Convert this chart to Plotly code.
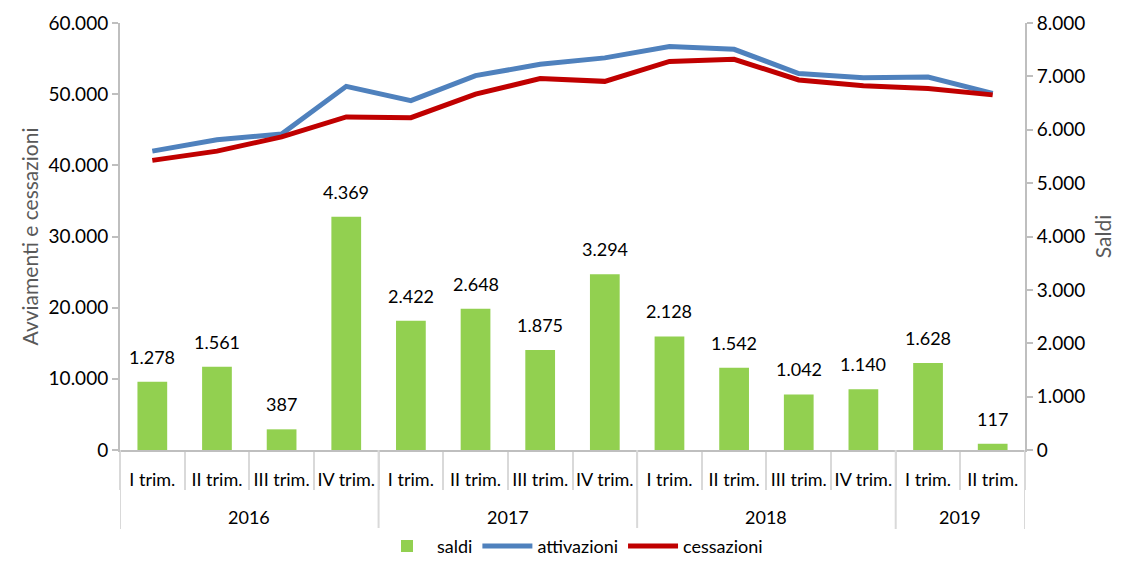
import plotly.graph_objects as go

years = ["2016"] * 4 + ["2017"] * 4 + ["2018"] * 4 + ["2019"] * 2
quarters = ["I trim.", "II trim.", "III trim.", "IV trim.",
            "I trim.", "II trim.", "III trim.", "IV trim.",
            "I trim.", "II trim.", "III trim.", "IV trim.",
            "I trim.", "II trim."]
saldi = [1278, 1561, 387, 4369, 2422, 2648, 1875, 3294, 2128, 1542, 1042, 1140, 1628, 117]
attivazioni = [42000, 43600, 44400, 51100, 49100, 52600, 54200, 55100, 56700, 56300, 52900, 52300, 52400, 50100]
cessazioni = [40700, 42000, 44000, 46800, 46700, 50000, 52200, 51800, 54600, 54900, 52000, 51200, 50800, 49900]

font_family = "Lato, 'Open Sans', sans-serif"
idx = list(range(len(quarters)))


def fmt(v):
    return f"{v:,}".replace(",", ".")


fig = go.Figure()
fig.add_trace(go.Bar(
    x=idx, y=saldi, name="saldi", yaxis="y",
    marker=dict(color="#92D050", line=dict(width=0)),
    width=0.46,
))
fig.add_trace(go.Scatter(
    x=idx, y=attivazioni, name="attivazioni", yaxis="y2", mode="lines",
    line=dict(color="#4F81BD", width=5),
))
fig.add_trace(go.Scatter(
    x=idx, y=cessazioni, name="cessazioni", yaxis="y2", mode="lines",
    line=dict(color="#C00000", width=5),
))

# bar value labels
annotations = []
for i, v in zip(idx, saldi):
    annotations.append(dict(
        x=i, y=v, xref="x", yref="y", text=fmt(v), showarrow=False,
        yanchor="bottom", yshift=12, font=dict(size=18, color="#000000", family=font_family),
    ))

# year groups
groups = []
for i, y in enumerate(years):
    if groups and groups[-1][0] == y:
        groups[-1][2] = i
    else:
        groups.append([y, i, i])

shapes = []
sep_color = "#D9D9D9"
bottom = -(529 - 450) / 427
year_label_y = -(517 - 450) / 427
for y, a, b in groups:
    annotations.append(dict(
        x=(a + b) / 2, y=year_label_y, xref="x", yref="paper", text=y, showarrow=False,
        yanchor="middle", font=dict(size=18, color="#000000", family=font_family),
    ))
    shapes.append(dict(type="line", xref="x", yref="paper", x0=a - 0.5, x1=a - 0.5,
                       y0=0, y1=bottom, line=dict(color=sep_color, width=2)))
last = groups[-1][2]
shapes.append(dict(type="line", xref="x", yref="paper", x0=last + 0.5, x1=last + 0.5,
                   y0=0, y1=bottom, line=dict(color=sep_color, width=2)))

axis_gray = "#BFBFBF"
fig.update_layout(
    width=1118, height=560,
    margin=dict(l=112, r=101, t=15, b=118, autoexpand=False),
    paper_bgcolor="white", plot_bgcolor="white",
    separators=",.",
    font=dict(family=font_family, size=18, color="#000000"),
    showlegend=True,
    legend=dict(orientation="h", x=0.5, xanchor="center", xref="paper",
                y=0.072, yanchor="top", yref="container",
                font=dict(size=18), traceorder="normal", itemwidth=50),
    bargap=0.5,
    annotations=annotations,
    shapes=shapes,
    xaxis=dict(
        range=[-0.5, len(idx) - 0.5],
        tickmode="array", tickvals=idx, ticktext=quarters,
        showline=True, linecolor=axis_gray, linewidth=2,
        ticks="", ticklabelstandoff=12,
        minor=dict(ticks="outside", ticklen=38, tickwidth=2, tickcolor=sep_color,
                   tick0=-0.5, dtick=1, showgrid=False),
        tickfont=dict(size=18),
        showgrid=False, zeroline=False, automargin=False,
    ),
    yaxis=dict(
        side="right", range=[0, 8000], dtick=1000, tickformat=",d",
        showline=True, linecolor=axis_gray, linewidth=2,
        ticks="outside", ticklen=6, tickcolor=axis_gray, tickwidth=2,
        showgrid=False, zeroline=False, automargin=False,
        title=dict(text="Saldi", font=dict(size=21, color="#595959"), standoff=12),
        tickfont=dict(size=19),
    ),
    yaxis2=dict(
        side="left", overlaying="y", range=[0, 60000], dtick=10000, tickformat=",d",
        showline=True, linecolor=axis_gray, linewidth=2,
        ticks="outside", ticklen=6, tickcolor=axis_gray, tickwidth=2,
        showgrid=False, zeroline=False, automargin=False,
        title=dict(text="Avviamenti e cessazioni", font=dict(size=21, color="#595959"), standoff=4),
        tickfont=dict(size=19),
    ),
)

fig.write_html("out.html")
